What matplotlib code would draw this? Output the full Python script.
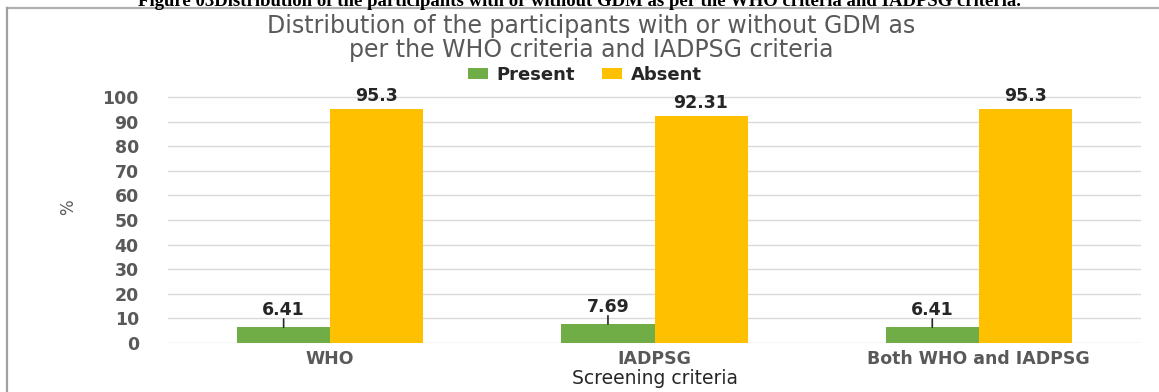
import matplotlib
matplotlib.use("Agg")
import numpy as np
from matplotlib import pyplot as plt
from matplotlib.lines import Line2D

categories = ["WHO", "IADPSG", "Both WHO and IADPSG"]
present = [6.41, 7.69, 6.41]
absent = [95.3, 92.31, 95.3]
series_names = ["Present", "Absent"]
yticks = [0, 10, 20, 30, 40, 50, 60, 70, 80, 90, 100]

GREEN = "#70ad47"
GOLD = "#ffc000"
GRAY_TXT = "#595959"
DARK_TXT = "#262626"
W, H = 1159, 392
BAR_W = 0.287

plt.rcParams['font.family'] = ['DejaVu Sans']

fig = plt.figure(figsize=(W / 100, H / 100), dpi=100)
ax = fig.add_axes([168 / W, 1 - 343 / H, (1141 - 168) / W, (343 - 95.8) / H])

x = np.arange(len(categories))
ax.bar(x - BAR_W / 2, present, BAR_W, color=GREEN, label=series_names[0], zorder=3)
ax.bar(x + BAR_W / 2, absent, BAR_W, color=GOLD, label=series_names[1], zorder=3)

# data labels; the small ones get a leader line like the original
for xi, v in zip(x - BAR_W / 2, present):
    ax.annotate("", xy=(xi, v), xytext=(0, 6), textcoords="offset points",
                arrowprops=dict(arrowstyle="-", color=DARK_TXT, lw=1.2, shrinkA=0, shrinkB=0))
    ax.annotate(f"{v:g}", xy=(xi, v), xytext=(0, 8.5), textcoords="offset points",
                ha="center", va="baseline", fontsize=12.5, fontweight="bold", color=DARK_TXT)
for xi, v in zip(x + BAR_W / 2, absent):
    ax.annotate(f"{v:g}", xy=(xi, v), xytext=(0, 5.8), textcoords="offset points",
                ha="center", va="baseline", fontsize=12.5, fontweight="bold", color=DARK_TXT)

ax.set_xlim(-0.5, len(categories) - 0.5)
ax.set_ylim(0, 100.5)
ax.set_yticks(yticks)
ax.set_xticks(x)
ax.set_xticklabels(categories)
ax.tick_params(axis="y", length=0, pad=21, labelsize=12.5, labelcolor=GRAY_TXT)
ax.tick_params(axis="x", length=0, pad=5, labelsize=12.5, labelcolor=GRAY_TXT)
for lab in ax.get_xticklabels() + ax.get_yticklabels():
    lab.set_fontweight("bold")
ax.grid(axis="y", color="#d9d9d9", lw=1, zorder=0)
for s in ax.spines.values():
    s.set_visible(False)

ax.set_ylabel("%", color=GRAY_TXT, fontsize=12)
ax.yaxis.set_label_coords(-0.093, 0.55)
ax.set_xlabel("Screening criteria", color=DARK_TXT, fontsize=13.5, labelpad=1)

fig.text(0.51, 1 - 38 / H, "Distribution of the participants with or without GDM as\nper the WHO criteria and IADPSG criteria",
         ha="center", va="center", fontsize=17, color=GRAY_TXT, linespacing=0.95)

fig.legend(loc="center", bbox_to_anchor=(585 / W, 1 - 75 / H), ncol=2, frameon=False,
           handlelength=1.1, handleheight=0.55, handletextpad=0.5,
           columnspacing=1.5, labelcolor=DARK_TXT, prop=dict(weight="bold", size=13))

# caption of the source document, cut off at the top
fig.text(0.5, 1 - 6 / H,
         "Figure 03Distribution of the participants with or without GDM as per the WHO criteria and IADPSG criteria.",
         ha="center", va="baseline", fontsize=13.5, fontweight="bold", family="Liberation Serif")

# frame of the pasted chart
fig.add_artist(Line2D([7 / W, 1], [1 - 8 / H, 1 - 8 / H], color="#b0b0b0", lw=1.6))
fig.add_artist(Line2D([7 / W, 7 / W], [0, 1 - 8 / H], color="#a0a0a0", lw=1.6))

fig.savefig("out.png", dpi=100)
